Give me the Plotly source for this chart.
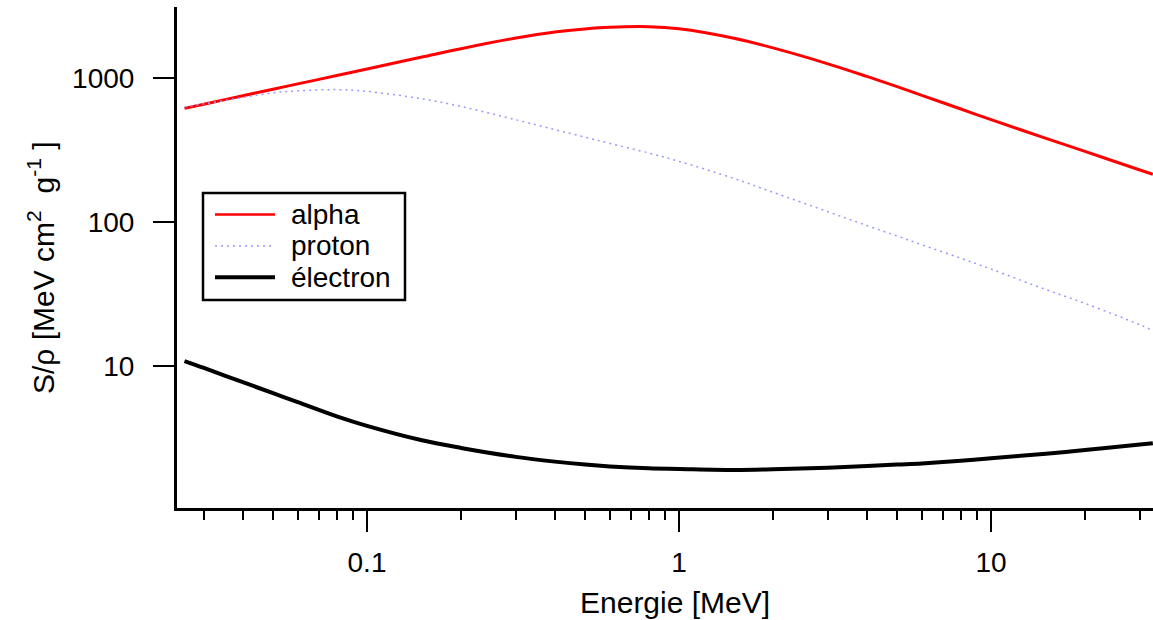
import plotly.graph_objects as go

# ---- data ----
energy = [0.026, 0.03, 0.04, 0.05, 0.06, 0.08, 0.1, 0.15, 0.2, 0.3, 0.4, 0.5, 0.6, 0.8,
          1, 1.5, 2, 3, 4, 5, 6, 8, 10, 15, 20, 30, 33]
alpha = [617, 660, 755, 839, 913, 1044, 1159, 1402, 1604, 1903, 2096, 2202, 2259, 2280,
         2205, 1894, 1624, 1259, 1029, 873, 760, 611, 515, 382, 310, 230, 215]
proton = [631, 663, 734, 792, 816, 833, 810, 719, 636, 514, 439, 389, 352, 302,
          264, 201, 161, 118, 94.5, 80.0, 69.5, 56.0, 47.1, 33.9, 27.2, 19.3, 17.6]
electron = [10.8, 9.68, 7.70, 6.46, 5.60, 4.46, 3.83, 3.04, 2.69, 2.33, 2.16, 2.06, 2.00, 1.94,
            1.92, 1.89, 1.91, 1.96, 2.01, 2.06, 2.10, 2.19, 2.28, 2.45, 2.60, 2.84, 2.90]

series_names = ["alpha", "proton", "électron"]
x_tickvals = [0.1, 1, 10]
x_ticktext = ["0.1", "1", "10"]
x_minorvals = [0.03, 0.04, 0.05, 0.06, 0.07, 0.08, 0.09,
               0.2, 0.3, 0.4, 0.5, 0.6, 0.7, 0.8, 0.9,
               2, 3, 4, 5, 6, 7, 8, 9, 20, 30]
y_tickvals = [10, 100, 1000]
y_ticktext = ["10", "100", "1000"]
x_title = "Energie [MeV]"
y_title = "S/ρ [MeV cm<sup>2</sup>\u00a0 g<sup>-1</sup>\u00a0]"

# ---- styles ----
FONT = "Liberation Sans, Arial, sans-serif"
styles = [
    dict(color="#ff0000", width=3, dash="solid"),
    dict(color="#9999ff", width=1.5, dash="2px,4px"),
    dict(color="#000000", width=4, dash="solid"),
]
legend_sample_width = [2.5, 1.5, 4]

fig = go.Figure()
for name, ys, st in zip(series_names, [alpha, proton, electron], styles):
    fig.add_trace(go.Scatter(x=energy, y=ys, mode="lines", name=name,
                             line=dict(color=st["color"], width=st["width"], dash=st["dash"],
                                       shape="spline", smoothing=1.0),
                             showlegend=False))

W, H = 1153, 620
L, R, T, B = 177, 0, 7, 112
pw, ph = W - L - R, H - T - B

def px2paper(px, py):
    return (px - L) / pw, (H - B - py) / ph

fig.update_layout(
    width=W, height=H,
    margin=dict(l=L, r=R, t=T, b=B),
    paper_bgcolor="white", plot_bgcolor="white",
    font=dict(family=FONT, size=28, color="black"),
    showlegend=False,
    xaxis=dict(type="log", range=[-1.609, 1.519],
               showline=True, linecolor="black", linewidth=3,
               showgrid=False, zeroline=False,
               ticks="outside", ticklen=21, tickwidth=2, tickcolor="black",
               tickvals=x_tickvals, ticktext=x_ticktext,
               ticklabelstandoff=6,
               minor=dict(tickvals=x_minorvals, ticks="outside", ticklen=9,
                          tickwidth=2, tickcolor="black", showgrid=False)),
    yaxis=dict(type="log", range=[0.012, 3.495],
               showline=True, linecolor="black", linewidth=3,
               showgrid=False, zeroline=False,
               ticks="outside", ticklen=21, tickwidth=2, tickcolor="black",
               tickvals=y_tickvals, ticktext=y_ticktext,
               ticklabelstandoff=13),
)

# axis titles
xt, yt = px2paper(675, 602)
fig.add_annotation(text=x_title, xref="paper", yref="paper", x=xt, y=yt,
                   xanchor="center", yanchor="middle", showarrow=False,
                   font=dict(size=30))
xt, yt = px2paper(41, 268)
fig.add_annotation(text=y_title, xref="paper", yref="paper", x=xt, y=yt,
                   xanchor="center", yanchor="middle", showarrow=False,
                   textangle=-90, font=dict(size=30))

# legend box
x0, y1 = px2paper(203, 193)
x1, y0 = px2paper(405, 300)
fig.add_shape(type="rect", xref="paper", yref="paper", x0=x0, x1=x1, y0=y0, y1=y1,
              line=dict(color="black", width=2.5), fillcolor="white", layer="above")
sample_y = [214.5, 246, 277.3]
for name, st, lw, sy in zip(series_names, styles, legend_sample_width, sample_y):
    sx0, syp = px2paper(215, sy)
    sx1, _ = px2paper(275, sy)
    fig.add_shape(type="line", xref="paper", yref="paper", x0=sx0, x1=sx1, y0=syp, y1=syp,
                  line=dict(color=st["color"], width=lw, dash=st["dash"]), layer="above")
    tx, _ = px2paper(289, sy)
    fig.add_annotation(text=name, xref="paper", yref="paper", x=tx, y=syp,
                       xanchor="left", yanchor="middle", showarrow=False,
                       font=dict(size=28))

fig.write_html("out.html")
